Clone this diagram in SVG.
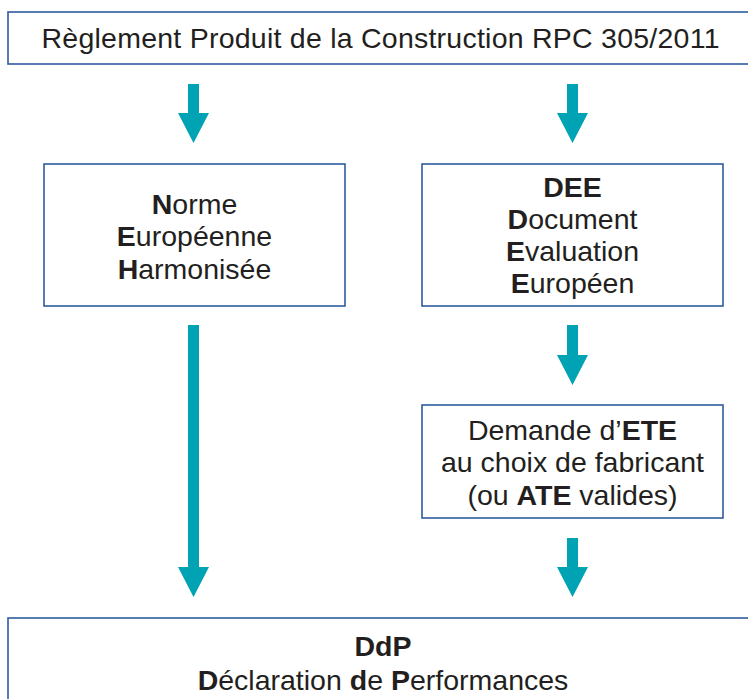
<svg xmlns="http://www.w3.org/2000/svg" width="748" height="699" viewBox="0 0 748 699">
<style>
.box{fill:#fff;stroke:#2F5C9E;stroke-width:1.6}
.t{font-family:"Liberation Sans",Arial,sans-serif;font-size:28.5px;fill:#231F20;text-anchor:middle}
.b{font-weight:bold}
.arr{fill:#00A3B3}
</style>
<rect width="748" height="699" fill="#fff"/>
<g id="rpc">
<rect class="box" x="8" y="12" width="760" height="52"/>
<text class="t" x="380.5" y="48" font-size="29" textLength="678" lengthAdjust="spacing">Règlement Produit de la Construction RPC 305/2011</text>
</g>
<g id="neh">
<rect class="box" x="44" y="164" width="301" height="142"/>
<text class="t" x="194.5" y="213.5"><tspan class="b">N</tspan>orme</text>
<text class="t" x="194.5" y="246"><tspan class="b">E</tspan>uropéenne</text>
<text class="t" x="194.5" y="278.5"><tspan class="b">H</tspan>armonisée</text>
</g>
<g id="dee">
<rect class="box" x="422" y="164" width="301" height="142"/>
<text class="t b" x="572.5" y="197">DEE</text>
<text class="t" x="572.5" y="229"><tspan class="b">D</tspan>ocument</text>
<text class="t" x="572.5" y="261"><tspan class="b">E</tspan>valuation</text>
<text class="t" x="572.5" y="293"><tspan class="b">E</tspan>uropéen</text>
</g>
<g id="ete">
<rect class="box" x="422" y="405" width="301" height="113"/>
<text class="t" x="572.5" y="440">Demande d’<tspan class="b">ETE</tspan></text>
<text class="t" x="572.5" y="472">au choix de fabricant</text>
<text class="t" x="572.5" y="504.5">(ou <tspan class="b">ATE</tspan> valides)</text>
</g>
<g id="ddp">
<rect class="box" x="8" y="618" width="760" height="100"/>
<text class="t b" x="383" y="656">DdP</text>
<text class="t" x="383" y="690"><tspan class="b">D</tspan>éclaration <tspan class="b">d</tspan>e <tspan class="b">P</tspan>erformances</text>
</g>
<g id="connectors" class="arr">
<polygon points="188,84 199,84 199,113 209,113 193.5,143 178,113 188,113"/>
<polygon points="567,84 578,84 578,113 588,113 572.5,143 557,113 567,113"/>
<polygon points="567,325 578,325 578,355 588,355 572.5,385 557,355 567,355"/>
<polygon points="567,538 578,538 578,567 588,567 572.5,597 557,567 567,567"/>
<polygon points="188,325 199,325 199,567 209,567 193.5,597 178,567 188,567"/>
</g>
</svg>
